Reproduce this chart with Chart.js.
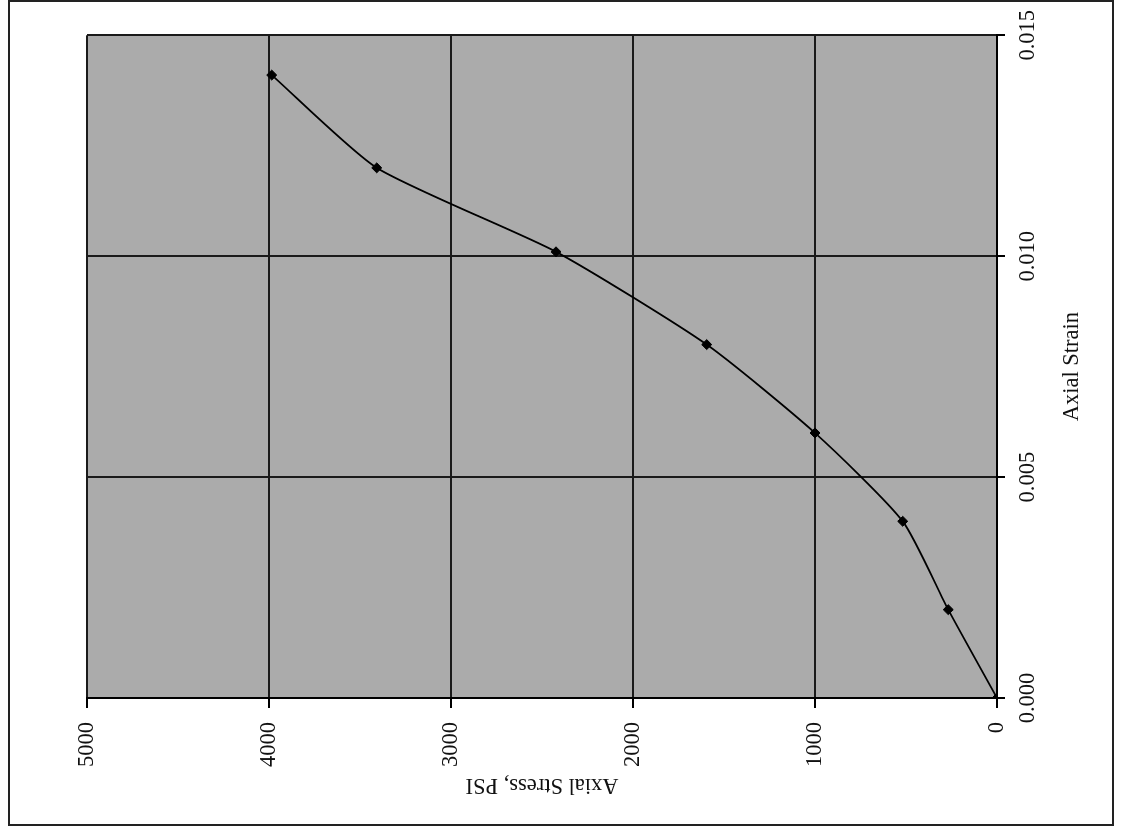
<!DOCTYPE html>
<html>
<head>
<meta charset="utf-8">
<title>Axial Stress vs Axial Strain</title>
<script src="https://cdn.jsdelivr.net/npm/chart.js@4.4.1/dist/chart.umd.min.js"></script>
<style>
  html, body {
    margin: 0;
    padding: 0;
    background: #fff;
    overflow: hidden;
  }
  #frame {
    position: absolute;
    left: 8px;
    top: 0px;
    width: 1106px;
    height: 826px;
    border: 2px solid #222;
    box-sizing: border-box;
  }
  /* the scanned page is turned on its side, so the whole chart is rotated */
  #rot {
    position: absolute;
    left: 0;
    top: 0;
    width: 828px;
    height: 1121px;
    transform-origin: 0 0;
    transform: translateY(828px) rotate(-90deg);
  }
</style>
</head>
<body>
<div id="frame"></div>
<div id="rot"><canvas id="stressStrain" width="828" height="1121"></canvas></div>
<script>
// values
const axialStrain = [0, 0.002, 0.004, 0.006, 0.008, 0.0101, 0.012, 0.0141];
const axialStress = [0, 268, 518, 1000, 1595, 2423, 3408, 3985];
const strainTicks = [0, 0.005, 0.010, 0.015];
const stressTicks = [0, 1000, 2000, 3000, 4000, 5000];

const plotGrey = '#ababab';
const inkColor = '#111';

// grey stippled plot area of the original
const plotBackground = {
  id: 'plotBackground',
  beforeDraw(chart) {
    let area = chart.chartArea;
    let ctx = chart.ctx;
    ctx.save();
    ctx.fillStyle = plotGrey;
    ctx.fillRect(area.left, area.top, area.right - area.left, area.bottom - area.top);
    ctx.restore();
  }
};

function initPage() {
  Chart.defaults.font.family = '"Liberation Serif", "Times New Roman", serif';
  Chart.defaults.color = inkColor;

  let points = [];
  for(let i = 0; i < axialStrain.length; i++) {
    points.push({x: axialStrain[i], y: axialStress[i]});
  }

  const config = {
    type: 'scatter',
    data: {
      datasets: [{
        label: 'Axial Stress',
        data: points,
        showLine: true,
        borderColor: '#000',
        backgroundColor: '#000',
        borderWidth: 1.8,
        tension: 0.2,
        pointStyle: 'rectRot',
        pointRadius: 5,
        pointBorderWidth: 1,
      }]
    },
    options: {
      responsive: false,
      animation: false,
      layout: {
        padding: {top: 87, right: 35, left: 0, bottom: 0}
      },
      plugins: {
        legend: {display: false},
        tooltip: {enabled: false},
      },
      scales: {
        x: {
          type: 'linear',
          min: 0,
          max: 0.015,
          afterBuildTicks: (scale) => {
            scale.ticks = strainTicks.map(v => ({value: v}));
          },
          afterFit: (scale) => {
            scale.height = 124;
          },
          ticks: {
            padding: 10,
            maxRotation: 0,
            font: {size: 22.5},
            callback: (v) => Number(v).toFixed(3),
          },
          grid: {
            color: '#1a1a1a',
            lineWidth: 2,
            tickLength: 8,
            tickColor: '#000',
          },
          border: {color: '#000', width: 2},
          title: {
            display: true,
            text: 'Axial Strain',
            font: {size: 22.5},
            padding: {top: 4, bottom: 35},
          },
        },
        y: {
          type: 'linear',
          min: 0,
          max: 5000,
          afterBuildTicks: (scale) => {
            scale.ticks = stressTicks.map(v => ({value: v}));
          },
          afterFit: (scale) => {
            scale.width = 130;
          },
          ticks: {
            padding: 14,
            font: {size: 22.5},
            callback: (v) => String(v),
          },
          grid: {
            color: '#1a1a1a',
            lineWidth: 2,
            tickLength: 10,
            tickColor: '#000',
          },
          border: {color: '#000', width: 2},
          title: {
            display: true,
            text: 'Axial Stress, PSI',
            font: {size: 22.5},
            padding: {top: 29.5, bottom: 4},
          },
        },
      },
    },
    plugins: [plotBackground],
  };
  new Chart(document.getElementById('stressStrain'), config);
}

window.addEventListener('load', initPage);
</script>
</body>
</html>
